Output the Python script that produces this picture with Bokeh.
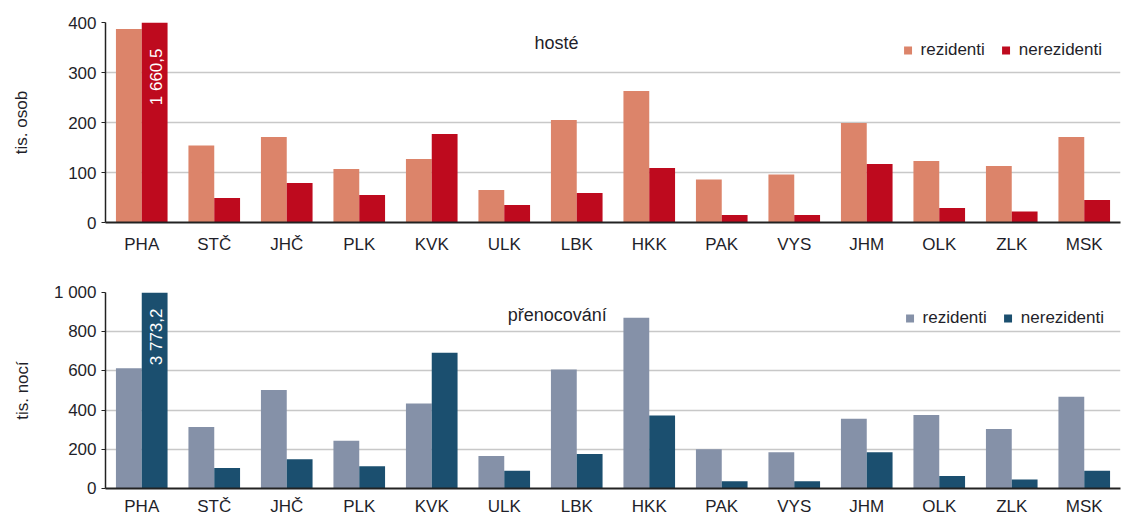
from bokeh.plotting import figure
from bokeh.models import FactorRange, Range1d, FixedTicker, Legend, LegendItem, ColumnDataSource, Label
from bokeh.layouts import column
from bokeh.transform import dodge
from bokeh.core.properties import value
from bokeh.embed import file_html
from bokeh.resources import INLINE
import math

regions = ["PHA", "STČ", "JHČ", "PLK", "KVK", "ULK", "LBK", "HKK", "PAK", "VYS", "JHM", "OLK", "ZLK", "MSK"]

# hosté (tis. osob)
guests_res = [387, 154, 171, 107, 127, 65, 205, 263, 86, 96, 199, 123, 113, 171]
guests_nonres = [1660.5, 49, 79, 55, 177, 35, 59, 109, 15, 15, 117, 29, 22, 45]

# přenocování (tis. nocí)
nights_res = [614, 314, 503, 244, 434, 166, 607, 871, 200, 185, 356, 375, 303, 468]
nights_nonres = [3773.2, 105, 149, 114, 693, 90, 176, 373, 37, 37, 185, 64, 46, 90]

top_ticks = [0, 100, 200, 300, 400]
bottom_ticks = [0, 200, 400, 600, 800, 1000]

FONT = "Liberation Sans"
TXT = "#1f1f2a"
FS = "17px"


def make_panel(res, nonres, ymax, ticks, colors, ylabel, title, title_xy, over_label,
               width, height, bl, bt, bb, label_standoff, ylab_standoff, leg_margin,
               x_standoff):
    src = ColumnDataSource(dict(
        region=regions,
        res=res,
        nonres_draw=[min(v, ymax) for v in nonres],
        nonres=nonres,
    ))
    p = figure(x_range=FactorRange(*regions), y_range=Range1d(0, ymax),
               width=width, height=height, output_backend="svg", toolbar_location=None,
               min_border_left=bl, min_border_right=2, min_border_top=bt, min_border_bottom=bb)
    r1 = p.vbar(x=dodge("region", -0.178, range=p.x_range), top="res", width=0.356,
                source=src, fill_color=colors[0], line_color=None)
    r2 = p.vbar(x=dodge("region", 0.178, range=p.x_range), top="nonres_draw", width=0.356,
                source=src, fill_color=colors[1], line_color=None)

    # value label for the clipped bar
    lbl_src = ColumnDataSource(dict(x=[regions[0]], y=[ymax], t=[over_label]))
    p.text(x=dodge("x", 0.178, range=p.x_range), y="y", text="t", source=lbl_src,
           angle=math.pi / 2, text_align="right", text_baseline="middle",
           text_color="white", text_font=value(FONT), text_font_size=FS,
           y_offset=label_standoff, x_offset=2)

    p.outline_line_color = None
    p.background_fill_color = "white"
    p.xgrid.grid_line_color = None
    p.ygrid.grid_line_color = "#C8C8C8"
    p.ygrid.grid_line_width = 1.5

    p.yaxis.ticker = FixedTicker(ticks=ticks)
    p.yaxis.major_label_overrides = {1000: "1 000"}
    p.yaxis.minor_tick_line_color = None
    p.yaxis.major_tick_in = 0
    p.yaxis.major_tick_out = 4
    p.yaxis.major_tick_line_color = "#222222"
    p.yaxis.axis_line_color = "#222222"
    p.yaxis.axis_line_width = 1.5
    p.yaxis.major_label_text_font = FONT
    p.yaxis.major_label_text_font_size = FS
    p.yaxis.major_label_text_color = TXT
    p.yaxis.major_label_standoff = 5
    p.yaxis.axis_label = ylabel
    p.yaxis.axis_label_text_font = FONT
    p.yaxis.axis_label_text_font_size = FS
    p.yaxis.axis_label_text_font_style = "normal"
    p.yaxis.axis_label_text_color = TXT
    p.yaxis.axis_label_standoff = ylab_standoff

    p.xaxis.major_tick_line_color = None
    p.xaxis.minor_tick_line_color = None
    p.xaxis.axis_line_color = "#222222"
    p.xaxis.axis_line_width = 2
    p.xaxis.major_label_text_font = FONT
    p.xaxis.major_label_text_font_size = FS
    p.xaxis.major_label_text_color = TXT
    p.xaxis.major_label_standoff = x_standoff

    p.add_layout(Label(x=title_xy[0], y=title_xy[1], text=title, text_align="center",
                       text_baseline="middle", text_font=FONT, text_font_size="18px",
                       text_color=TXT))

    legend = Legend(items=[LegendItem(label="rezidenti", renderers=[r1]),
                           LegendItem(label="nerezidenti", renderers=[r2])],
                    orientation="horizontal", location="top_right",
                    border_line_color=None, background_fill_alpha=0,
                    glyph_width=10, glyph_height=10, label_standoff=8, spacing=16,
                    label_text_font=FONT, label_text_font_size=FS,
                    label_text_color=TXT, margin=leg_margin, padding=4)
    p.add_layout(legend)
    return p


top = make_panel(guests_res, guests_nonres, 400, top_ticks, ["#DC846A", "#BE0A1E"],
                 "tis. osob", "hosté", (6.22, 359), "1 660,5",
                 1122, 258, 100, 22, 36, 26, 34, 18, 6)
bottom = make_panel(nights_res, nights_nonres, 1000, bottom_ticks, ["#8591A8", "#1B4F6F"],
                    "tis. nocí", "přenocování", (6.23, 883), "3 773,2",
                    1122, 260, 105, 34, 29, 16, 19, 16, 2)

layout = column(top, bottom, spacing=0)
open("out.html", "w").write(file_html(layout, INLINE))
